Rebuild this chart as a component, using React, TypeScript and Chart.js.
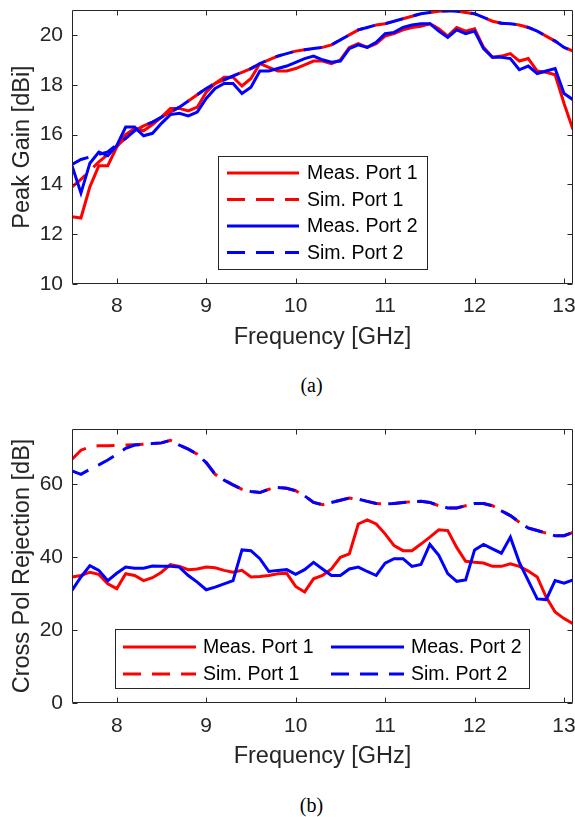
import React, { useEffect, useRef } from "react";
import { Chart, registerables } from "chart.js";

Chart.register(...registerables);

const FONT = "'Liberation Sans', Arial, Helvetica, sans-serif";
const AXIS_COLOR = "#262626";
const RED = "#ff0000";
const BLUE = "#0000ff";

// ---------- data ----------
const frequencyGHz = [
  7.5, 7.6, 7.7, 7.8, 7.9,
  8.0, 8.1, 8.2, 8.3, 8.4, 8.5, 8.6, 8.7, 8.8, 8.9,
  9.0, 9.1, 9.2, 9.3, 9.4, 9.5, 9.6, 9.7, 9.8, 9.9,
  10.0, 10.1, 10.2, 10.3, 10.4, 10.5, 10.6, 10.7, 10.8, 10.9,
  11.0, 11.1, 11.2, 11.3, 11.4, 11.5, 11.6, 11.7, 11.8, 11.9,
  12.0, 12.1, 12.2, 12.3, 12.4, 12.5, 12.6, 12.7, 12.8, 12.9,
  13.0, 13.1,
];

const gainMeasPort1 = [
  12.7, 12.65, 13.9, 14.75, 14.75,
  15.5, 16.0, 16.25, 16.15, 16.4, 16.7, 17.05, 17.05, 16.95, 17.1,
  17.7, 18.05, 18.3, 18.3, 17.95, 18.25, 18.85, 18.7, 18.55, 18.55,
  18.65, 18.8, 18.95, 18.95, 18.85, 19.0, 19.5, 19.65, 19.5, 19.65,
  19.95, 20.05, 20.2, 20.3, 20.35, 20.45, 20.25, 19.95, 20.3, 20.15,
  20.25, 19.5, 19.1, 19.15, 19.25, 18.95, 19.05, 18.55, 18.5, 18.4,
  17.25, 16.2,
];
const gainSimPort1 = [
  13.9, 14.2, 14.55, 14.9, 15.2,
  15.55, 15.85, 16.15, 16.35, 16.5, 16.7, 16.9, 17.1, 17.35, 17.6,
  17.85, 18.05, 18.2, 18.35, 18.5, 18.65, 18.85, 19.0, 19.15, 19.25,
  19.35, 19.4, 19.45, 19.5, 19.6, 19.8, 20.0, 20.2, 20.3, 20.4,
  20.45, 20.55, 20.65, 20.75, 20.85, 20.9, 20.95, 20.97, 20.95, 20.9,
  20.85, 20.7, 20.55, 20.47, 20.45, 20.4, 20.3, 20.15, 19.95, 19.75,
  19.5, 19.35,
];
const gainMeasPort2 = [
  14.75, 13.65, 14.85, 15.3, 15.15,
  15.55, 16.3, 16.3, 15.95, 16.05, 16.45, 16.8, 16.85, 16.75, 16.9,
  17.45, 17.85, 18.05, 18.05, 17.65, 17.9, 18.55, 18.55, 18.65, 18.75,
  18.9, 19.05, 19.15, 19.0, 18.9, 18.95, 19.45, 19.6, 19.5, 19.7,
  20.05, 20.1, 20.3, 20.4, 20.45, 20.45, 20.15, 19.9, 20.2, 20.05,
  20.15, 19.45, 19.1, 19.1, 19.05, 18.6, 18.75, 18.45, 18.55, 18.65,
  17.65, 17.4,
];
const gainSimPort2 = [
  14.8, 15.0, 15.1, 15.2, 15.3,
  15.6, 15.85, 16.15, 16.35, 16.5, 16.7, 16.9, 17.1, 17.35, 17.6,
  17.85, 18.05, 18.2, 18.35, 18.5, 18.65, 18.85, 19.0, 19.15, 19.25,
  19.35, 19.4, 19.45, 19.5, 19.6, 19.8, 20.0, 20.2, 20.3, 20.4,
  20.45, 20.55, 20.65, 20.75, 20.85, 20.9, 20.95, 20.97, 20.95, 20.9,
  20.85, 20.7, 20.55, 20.47, 20.45, 20.4, 20.3, 20.15, 19.95, 19.75,
  19.5, 19.35,
];

const xpolMeasPort1 = [
  34.5, 34.9, 35.8, 35.2, 32.6,
  31.3, 35.4, 34.9, 33.5, 34.3, 35.8, 37.9, 37.4, 36.5, 36.7,
  37.2, 37.0, 36.3, 35.8, 36.3, 34.5, 34.6, 34.9, 35.4, 35.5,
  31.9, 30.4, 34.0, 34.9, 36.7, 39.9, 40.8, 49.0, 50.1, 49.0,
  46.3, 43.1, 41.7, 41.7, 43.5, 45.4, 47.4, 47.2, 42.6, 38.8,
  38.5, 38.3, 37.4, 37.4, 38.1, 37.4, 36.1, 34.5, 29.0, 24.9,
  23.1, 21.7,
];
const xpolSimPort1 = [
  66.7, 69.2, 70.1, 70.4, 70.4,
  70.5, 70.6, 70.7, 70.8, 71.0, 71.2, 71.9, 70.6, 69.5, 68.1,
  65.8, 62.6, 61.0, 59.7, 58.5, 57.9, 57.6, 58.5, 59.0, 58.8,
  58.1, 56.7, 54.9, 54.3, 54.9, 55.5, 56.1, 55.8, 55.2, 54.6,
  54.5, 54.6, 54.9, 55.1, 55.2, 54.9, 54.0, 53.4, 53.4, 54.0,
  54.6, 54.6, 54.0, 52.6, 51.3, 49.5, 47.9, 47.2, 46.5, 45.8,
  45.8, 46.7,
];
const xpolMeasPort2 = [
  30.8, 34.5, 37.6, 36.3, 33.5,
  35.5, 37.2, 36.9, 36.9, 37.5, 37.4, 37.4, 37.2, 34.9, 33.1,
  31.0, 31.7, 32.6, 33.5, 41.9, 41.7, 39.5, 36.0, 36.3, 36.5,
  35.2, 36.5, 38.5, 36.7, 34.9, 34.9, 36.7, 37.2, 36.0, 34.9,
  38.3, 39.5, 39.5, 37.4, 37.9, 43.4, 40.4, 35.4, 33.3, 33.7,
  41.9, 43.4, 42.2, 41.0, 45.4, 38.5, 33.5, 28.5, 28.3, 33.5,
  32.8, 33.7,
];
const xpolSimPort2 = [
  63.5, 62.6, 64.0, 65.2, 66.5,
  68.1, 69.7, 70.6, 70.8, 71.0, 71.2, 71.9, 70.6, 69.5, 68.1,
  65.8, 62.6, 61.0, 59.7, 58.5, 57.9, 57.6, 58.5, 59.0, 58.8,
  58.1, 56.7, 54.9, 54.3, 54.9, 55.5, 56.1, 55.8, 55.2, 54.6,
  54.5, 54.6, 54.9, 55.1, 55.2, 54.9, 54.0, 53.4, 53.4, 54.0,
  54.6, 54.6, 54.0, 52.6, 51.3, 49.5, 47.9, 47.2, 46.5, 45.8,
  45.8, 46.7,
];

const seriesLabels = ["Meas. Port 1", "Sim. Port 1", "Meas. Port 2", "Sim. Port 2"];
const freqTicks = [8, 9, 10, 11, 12, 13];
const gainTicks = [10, 12, 14, 16, 18, 20];
const xpolTicks = [0, 20, 40, 60];

// ---------- plugin: MATLAB-like box, inward ticks, legend ----------
const matlabFrame = {
  id: "matlabFrame",
  afterDatasetsDraw(chart: any, _args: any, opts: any) {
    const { ctx, chartArea: a, scales } = chart;
    const L = Math.round(a.left) + 0.5;
    const R = Math.round(a.right) - 0.5;
    const T = Math.round(a.top) + 0.5;
    const B = Math.round(a.bottom) - 0.5;
    const tl = 5;
    ctx.save();
    ctx.strokeStyle = AXIS_COLOR;
    ctx.lineWidth = 1;
    ctx.setLineDash([]);
    ctx.beginPath();
    ctx.rect(L, T, R - L, B - T);
    for (const t of scales.x.ticks) {
      const px = Math.round(scales.x.getPixelForValue(t.value)) + 0.5;
      ctx.moveTo(px, B);
      ctx.lineTo(px, B - tl);
      ctx.moveTo(px, T);
      ctx.lineTo(px, T + tl);
    }
    for (const t of scales.y.ticks) {
      const py = Math.round(scales.y.getPixelForValue(t.value)) + 0.5;
      ctx.moveTo(L, py);
      ctx.lineTo(L + tl, py);
      ctx.moveTo(R, py);
      ctx.lineTo(R - tl, py);
    }
    ctx.stroke();

    const lg = opts.legend;
    if (lg) {
      const [x0, y0, x1, y1] = lg.box;
      ctx.fillStyle = "#ffffff";
      ctx.fillRect(x0, y0, x1 - x0, y1 - y0);
      ctx.strokeStyle = AXIS_COLOR;
      ctx.lineWidth = 1;
      ctx.strokeRect(x0 + 0.5, y0 + 0.5, x1 - x0 - 1, y1 - y0 - 1);
      ctx.font = `${lg.fontSize}px ${FONT}`;
      ctx.textBaseline = "middle";
      ctx.textAlign = "left";
      chart.data.datasets.forEach((ds: any, i: number) => {
        const cell = lg.cells[i];
        ctx.strokeStyle = ds.borderColor;
        ctx.lineWidth = ds.borderWidth;
        ctx.setLineDash(ds.borderDash || []);
        ctx.lineDashOffset = 0;
        ctx.beginPath();
        ctx.moveTo(cell[0], cell[1]);
        ctx.lineTo(cell[0] + lg.lineLength, cell[1]);
        ctx.stroke();
        ctx.setLineDash([]);
        ctx.fillStyle = "#000000";
        ctx.fillText(ds.label, cell[0] + lg.lineLength + lg.textGap, cell[1] + 1);
      });
    }
    ctx.restore();
  },
};

function makeDatasets(m1: number[], s1: number[], m2: number[], s2: number[]) {
  const pts = (arr: number[]) => frequencyGHz.map((f, i) => ({ x: f, y: arr[i] }));
  const base = { pointRadius: 0, borderWidth: 3, tension: 0, fill: false };
  const dash = [18, 11];
  return [
    { ...base, label: seriesLabels[0], data: pts(m1), borderColor: RED, order: 3 },
    { ...base, label: seriesLabels[1], data: pts(s1), borderColor: RED, borderDash: dash, order: 2 },
    { ...base, label: seriesLabels[2], data: pts(m2), borderColor: BLUE, order: 1 },
    { ...base, label: seriesLabels[3], data: pts(s2), borderColor: BLUE, borderDash: dash, order: 0 },
  ];
}

function makeConfig(p: any) {
  return {
    type: "line",
    data: { datasets: p.datasets },
    plugins: [matlabFrame],
    options: {
      responsive: false,
      animation: false,
      events: [],
      layout: { padding: { top: p.padTop, right: 2, left: 0, bottom: 0 } },
      plugins: {
        legend: { display: false },
        tooltip: { enabled: false },
        matlabFrame: { legend: p.legend },
      },
      scales: {
        x: {
          type: "linear",
          min: 7.5,
          max: 13.1,
          grid: { display: false, drawTicks: false },
          border: { display: false },
          ticks: {
            color: AXIS_COLOR,
            font: { family: FONT, size: 21 },
            padding: p.xTickPad,
            maxRotation: 0,
            autoSkip: false,
            callback: (v: any) => String(v),
          },
          afterBuildTicks: (s: any) => {
            s.ticks = freqTicks.map((v) => ({ value: v }));
          },
          afterFit: (s: any) => {
            s.height = p.xHeight;
            s.paddingLeft = 0;
            s.paddingRight = 0;
          },
          title: {
            display: true,
            text: "Frequency [GHz]",
            color: AXIS_COLOR,
            font: { family: FONT, size: 23.5 },
            padding: { top: 0, bottom: p.xTitlePad },
          },
        },
        y: {
          type: "linear",
          min: p.yMin,
          max: p.yMax,
          grid: { display: false, drawTicks: false },
          border: { display: false },
          ticks: {
            color: AXIS_COLOR,
            font: { family: FONT, size: 21 },
            padding: 9,
            autoSkip: false,
            callback: (v: any) => String(v),
          },
          afterBuildTicks: (s: any) => {
            s.ticks = p.yTicks.map((v: number) => ({ value: v }));
          },
          afterFit: (s: any) => {
            s.width = 72;
            s.paddingTop = 0;
            s.paddingBottom = 0;
          },
          title: {
            display: true,
            text: p.yTitle,
            color: AXIS_COLOR,
            font: { family: FONT, size: 23.5 },
            padding: { top: 8, bottom: 0 },
          },
        },
      },
    },
  };
}

function ChartCanvas({ config, top, height }: { config: any; top: number; height: number }) {
  const ref = useRef<HTMLCanvasElement>(null);
  useEffect(() => {
    const chart = new Chart(ref.current as HTMLCanvasElement, config);
    return () => chart.destroy();
  }, []);
  return (
    <canvas
      ref={ref}
      width={575}
      height={height}
      style={{ position: "absolute", left: 0, top, width: 575, height }}
    />
  );
}

const captionStyle = (top: number): React.CSSProperties => ({
  position: "absolute",
  left: 0,
  top,
  width: 623,
  textAlign: "center",
  fontFamily: "'Liberation Serif', 'Times New Roman', serif",
  fontSize: 20,
  lineHeight: "24px",
  color: "#000",
});

export default function App() {
  const gainConfig = makeConfig({
    datasets: makeDatasets(gainMeasPort1, gainSimPort1, gainMeasPort2, gainSimPort2),
    padTop: 10,
    xHeight: 76,
    xTickPad: 10,
    xTitlePad: 7.9,
    yMin: 10,
    yMax: 21,
    yTicks: gainTicks,
    yTitle: "Peak Gain [dBi]",
    legend: {
      box: [218, 156, 428, 270],
      cells: [
        [227, 173],
        [227, 199.5],
        [227, 226],
        [227, 252.5],
      ],
      lineLength: 72,
      textGap: 8,
      fontSize: 19.5,
    },
  });
  const xpolConfig = makeConfig({
    datasets: makeDatasets(xpolMeasPort1, xpolSimPort1, xpolMeasPort2, xpolSimPort2),
    padTop: 11,
    xHeight: 75,
    xTickPad: 11,
    xTitlePad: 6.9,
    yMin: 0,
    yMax: 75,
    yTicks: xpolTicks,
    yTitle: "Cross Pol Rejection [dB]",
    legend: {
      box: [115, 211, 530, 271],
      cells: [
        [123, 229],
        [123, 256],
        [331, 229],
        [331, 256],
      ],
      lineLength: 73,
      textGap: 7,
      fontSize: 19.5,
    },
  });
  return (
    <div>
      <ChartCanvas config={gainConfig} top={0} height={360} />
      <div style={captionStyle(373)}>(a)</div>
      <ChartCanvas config={xpolConfig} top={418} height={360} />
      <div style={captionStyle(793)}>(b)</div>
    </div>
  );
}
